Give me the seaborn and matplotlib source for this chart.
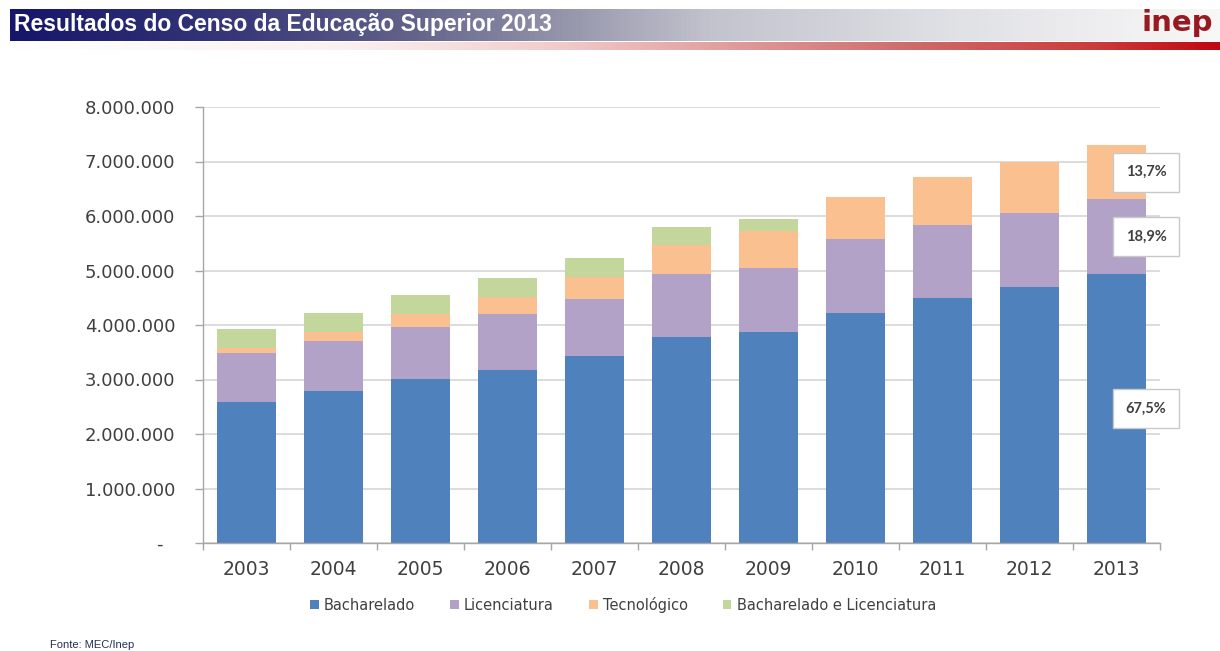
import numpy as np
import pandas as pd
import matplotlib
matplotlib.use("Agg")
import matplotlib.pyplot as plt
from matplotlib.colors import LinearSegmentedColormap
from matplotlib.patches import Patch
from matplotlib.ticker import FuncFormatter, MultipleLocator, FixedLocator
import seaborn as sns

# --- Matrículas de graduação por grau acadêmico ---
anos = ["2003", "2004", "2005", "2006", "2007", "2008", "2009", "2010", "2011", "2012", "2013"]
bacharelado = [2_590_000, 2_790_000, 3_010_000, 3_170_000, 3_430_000, 3_780_000,
               3_870_000, 4_220_000, 4_500_000, 4_700_000, 4_928_000]
licenciatura = [900_000, 920_000, 950_000, 1_030_000, 1_050_000, 1_150_000,
                1_170_000, 1_360_000, 1_340_000, 1_360_000, 1_377_700]
tecnologico = [90_000, 160_000, 240_000, 310_000, 400_000, 540_000,
               690_000, 770_000, 880_000, 930_000, 999_300]
bach_lic = [350_000, 350_000, 350_000, 360_000, 350_000, 330_000,
            210_000, 0, 0, 0, 0]

series_names = ["Bacharelado", "Licenciatura", "Tecnológico", "Bacharelado e Licenciatura"]
series_colors = ["#4F81BD", "#B3A2C7", "#FAC090", "#C3D69B"]

df = pd.DataFrame({
    "ano": anos,
    "Bacharelado": bacharelado,
    "Licenciatura": licenciatura,
    "Tecnológico": tecnologico,
    "Bacharelado e Licenciatura": bach_lic,
})
# cumulative tops of each stacked layer
cum = df[series_names].cumsum(axis=1)
for name in series_names:
    df["top_" + name] = cum[name]

sns.set_theme(style="white")
plt.rcParams["font.family"] = ["DejaVu Sans"]

W, H = 1220, 651
fig = plt.figure(figsize=(W / 100, H / 100), dpi=100)
fig.patch.set_facecolor("white")

def fx(px):
    return px / W

def fy(py):
    return 1 - py / H

# --- header band with gradient ---
head_ax = fig.add_axes([fx(10), fy(41), fx(1210), 32 / H])
head_cmap = LinearSegmentedColormap.from_list("head", [
    (0.00, "#16166a"), (0.18, "#363678"), (0.33, "#62628a"), (0.46, "#9696ac"),
    (0.58, "#c2c3cd"), (0.75, "#dcdde2"), (0.90, "#eeeef0"), (1.00, "#f7f7f7")])
head_ax.imshow(np.linspace(0, 1, 600)[None, :], cmap=head_cmap, aspect="auto",
               extent=[0, 1, 0, 1])
head_ax.axis("off")

red_ax = fig.add_axes([fx(10), fy(50), fx(1210), 8 / H])
red_cmap = LinearSegmentedColormap.from_list("red", [
    (0.00, "#ffffff"), (0.28, "#fbf0f0"), (0.45, "#f2cccc"), (0.58, "#e2a2a2"),
    (0.74, "#d06c6c"), (0.90, "#cb3c3c"), (1.00, "#c00812")])
red_ax.imshow(np.linspace(0, 1, 600)[None, :], cmap=red_cmap, aspect="auto",
              extent=[0, 1, 0, 1])
red_ax.axis("off")

fig.text(fx(14), fy(24), "Resultados do Censo da Educação Superior 2013",
         color="white", fontsize=16.5, fontweight="bold",
         family="Liberation Sans", ha="left", va="center")
fig.text(fx(1213), fy(23), "inep", color="#981a20", fontsize=21,
         fontweight="heavy", family="DejaVu Sans", ha="right", va="center")

# --- stacked bars ---
ax = fig.add_axes([fx(203), fy(543), fx(957), 436 / H])
for name, color in reversed(list(zip(series_names, series_colors))):
    sns.barplot(data=df, x="ano", y="top_" + name, color=color, saturation=1,
                width=0.67, errorbar=None, ax=ax, zorder=2,
                linewidth=0, edgecolor="none")

ax.set_xlim(-0.5, len(anos) - 0.5)
ax.set_ylim(0, 8_000_000)
ax.set_xlabel("")
ax.set_ylabel("")
ax.set_axisbelow(True)

ax.yaxis.set_major_locator(MultipleLocator(1_000_000))
ax.yaxis.set_major_formatter(FuncFormatter(
    lambda v, p: "-  " if v == 0 else f"{int(v):,}".replace(",", ".")))
ax.grid(axis="y", color="#d9d9d9", linewidth=1.3)
ax.grid(axis="x", visible=False)

for side in ["top", "right"]:
    ax.spines[side].set_visible(False)
for side in ["left", "bottom"]:
    ax.spines[side].set_color("#a6a6a6")
    ax.spines[side].set_linewidth(1.0)

ax.tick_params(axis="y", which="major", left=True, length=6, width=1.0,
               color="#a6a6a6", pad=14, labelsize=13, labelcolor="#404040")
ax.tick_params(axis="x", which="major", bottom=False, length=0, pad=12,
               labelsize=13.5, labelcolor="#404040")
ax.xaxis.set_minor_locator(FixedLocator(np.arange(-0.5, len(anos), 1.0)))
ax.tick_params(axis="x", which="minor", bottom=True, length=5, width=1.0,
               color="#a6a6a6")

# --- percentage labels for 2013 ---
last = len(anos) - 1
total_last = sum(df.loc[last, n] for n in series_names)
base = 0
for name in series_names:
    val = df.loc[last, name]
    if val > 0:
        pct = f"{val / total_last * 100:.1f}%".replace(".", ",")
        ax.text(last + 0.34, base + val / 2, pct, ha="center", va="center",
                fontsize=10.5, fontweight="bold", family="Lato", color="#404040",
                zorder=5,
                bbox=dict(boxstyle="square,pad=0.85", facecolor="white",
                          edgecolor="#c8c8c8", linewidth=1.0))
    base += val

# --- legend ---
handles = [Patch(facecolor=c, edgecolor="none") for c in series_colors]
fig.legend(handles, series_names, loc="center", bbox_to_anchor=(fx(623), fy(605)),
           ncol=4, frameon=False, fontsize=10.5, handlelength=0.6,
           handleheight=0.6, handletextpad=0.35, columnspacing=2.4,
           labelcolor="#404040")

fig.text(fx(50), fy(645), "Fonte: MEC/Inep", fontsize=8, family="Liberation Sans",
         color="#243056", ha="left", va="center")

fig.savefig("out.png", dpi=100, facecolor="white")
